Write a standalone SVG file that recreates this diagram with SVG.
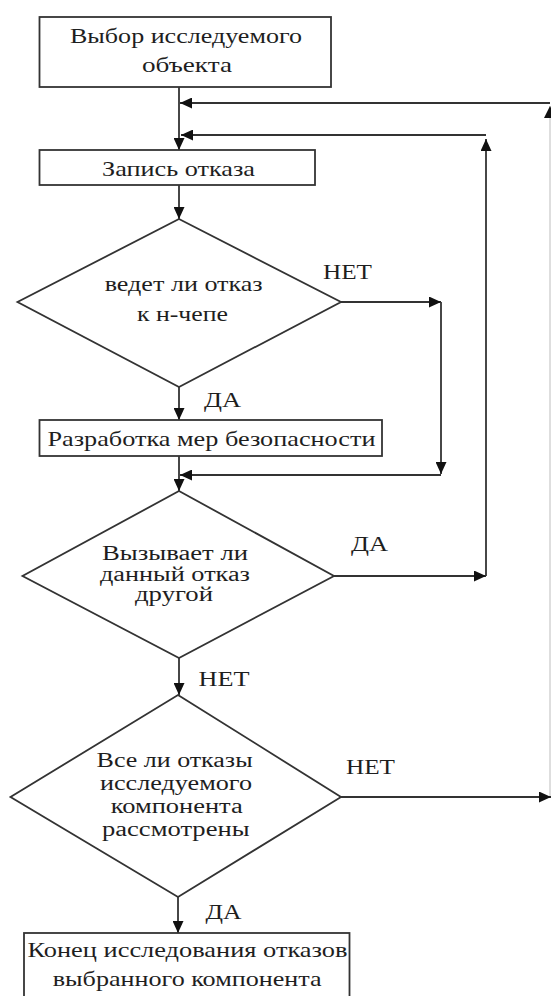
<svg xmlns="http://www.w3.org/2000/svg" width="551" height="996" viewBox="0 0 551 996">
<defs>
<marker id="arr" markerWidth="12" markerHeight="11" refX="12" refY="5.5" orient="auto" markerUnits="userSpaceOnUse">
<path d="M0,0 L12,5.5 L0,11 z" fill="#111"/>
</marker>
<style>
.box{fill:#fff;stroke:#333;stroke-width:1.8}
.t{font-family:'Liberation Serif','Times New Roman','DejaVu Serif',serif;font-size:22px;fill:#1e1e1e}
.s{font-size:20px}
.c{fill:none;stroke:#333;stroke-width:1.8}
.faint{fill:none;stroke:#c8c8c8;stroke-width:1.2}
</style>
</defs>
<rect width="551" height="996" fill="#fff"/>

<g id="connectors">
<path class="c" d="M179,87 V150" marker-end="url(#arr)"/>
<path class="c" d="M550,103 H180" marker-end="url(#arr)"/>
<path class="faint" d="M550,797 V106"/>
<path d="M544,118 L550,106 L556,118 z" fill="#111"/>
<path class="c" d="M486,135 H181" marker-end="url(#arr)"/>
<path class="c" d="M179,185 V219" marker-end="url(#arr)"/>
<path class="c" d="M341,302 H441" marker-end="url(#arr)"/>
<path class="c" d="M441,302 V474" marker-end="url(#arr)"/>
<path class="c" d="M441,475 H180" marker-end="url(#arr)"/>
<path class="c" d="M179,387 V420" marker-end="url(#arr)"/>
<path class="c" d="M179,456 V491" marker-end="url(#arr)"/>
<path class="c" d="M334,576 H486" marker-end="url(#arr)"/>
<path class="c" d="M486,576 V139" marker-end="url(#arr)"/>
<path class="c" d="M179,658 V695" marker-end="url(#arr)"/>
<path class="c" d="M341,797 H551" marker-end="url(#arr)"/>
<path class="c" d="M178,897 V933" marker-end="url(#arr)"/>
<text class="t" font-family="Liberation Serif, serif" x="323" y="279" textLength="49" lengthAdjust="spacingAndGlyphs">НЕТ</text>
<text class="t" font-family="Liberation Serif, serif" x="204" y="407" textLength="37" lengthAdjust="spacingAndGlyphs">ДА</text>
<text class="t" font-family="Liberation Serif, serif" x="351" y="551" textLength="37" lengthAdjust="spacingAndGlyphs">ДА</text>
<text class="t" font-family="Liberation Serif, serif" x="198.5" y="686" textLength="51" lengthAdjust="spacingAndGlyphs">НЕТ</text>
<text class="t" font-family="Liberation Serif, serif" x="346" y="774" textLength="49" lengthAdjust="spacingAndGlyphs">НЕТ</text>
<text class="t" font-family="Liberation Serif, serif" x="205.5" y="919" textLength="36" lengthAdjust="spacingAndGlyphs">ДА</text>
</g>

<g id="select">
<rect class="box" x="39.5" y="17" width="291.5" height="70"/>
<text class="t" font-family="Liberation Serif, serif" x="70" y="43" textLength="232" lengthAdjust="spacingAndGlyphs">Выбор исследуемого</text>
<text class="t" font-family="Liberation Serif, serif" x="142" y="72" textLength="90" lengthAdjust="spacingAndGlyphs">объекта</text>
</g>

<g id="record">
<rect class="box" x="39.5" y="150" width="275.5" height="35"/>
<text class="t" font-family="Liberation Serif, serif" x="102" y="176" textLength="153" lengthAdjust="spacingAndGlyphs">Запись отказа</text>
</g>

<g id="dec1">
<polygon class="box" points="179,219 341,302 179,387 17.5,302"/>
<text class="t" font-family="Liberation Serif, serif" x="104.7" y="291" textLength="158" lengthAdjust="spacingAndGlyphs">ведет ли отказ</text>
<text class="t" font-family="Liberation Serif, serif" x="137" y="321" textLength="91" lengthAdjust="spacingAndGlyphs">к н-чепе</text>
</g>

<g id="safety">
<rect class="box" x="39.5" y="420" width="342.5" height="36"/>
<text class="t" font-family="Liberation Serif, serif" x="47.5" y="446" textLength="328" lengthAdjust="spacingAndGlyphs">Разработка мер безопасности</text>
</g>

<g id="dec2">
<polygon class="box" points="179,491 334,576 179,658 22.5,576"/>
<text class="t s" font-family="Liberation Serif, serif" x="102" y="560" textLength="146" lengthAdjust="spacingAndGlyphs">Вызывает ли</text>
<text class="t s" font-family="Liberation Serif, serif" x="100" y="581" textLength="150" lengthAdjust="spacingAndGlyphs">данный отказ</text>
<text class="t s" font-family="Liberation Serif, serif" x="135" y="601" textLength="78" lengthAdjust="spacingAndGlyphs">другой</text>
</g>

<g id="dec3">
<polygon class="box" points="178,695 341,797 178,897 10.5,797"/>
<text class="t s" font-family="Liberation Serif, serif" x="96.6" y="767" textLength="156" lengthAdjust="spacingAndGlyphs">Все ли отказы</text>
<text class="t s" font-family="Liberation Serif, serif" x="100" y="790" textLength="152" lengthAdjust="spacingAndGlyphs">исследуемого</text>
<text class="t s" font-family="Liberation Serif, serif" x="110.7" y="813" textLength="132" lengthAdjust="spacingAndGlyphs">компонента</text>
<text class="t s" font-family="Liberation Serif, serif" x="102" y="836" textLength="147.5" lengthAdjust="spacingAndGlyphs">рассмотрены</text>
</g>

<g id="end">
<rect class="box" x="24" y="933" width="325.5" height="70"/>
<text class="t" font-family="Liberation Serif, serif" x="27.5" y="957" textLength="320" lengthAdjust="spacingAndGlyphs">Конец исследования отказов</text>
<text class="t" font-family="Liberation Serif, serif" x="52.7" y="986" textLength="269" lengthAdjust="spacingAndGlyphs">выбранного компонента</text>
</g>
</svg>
